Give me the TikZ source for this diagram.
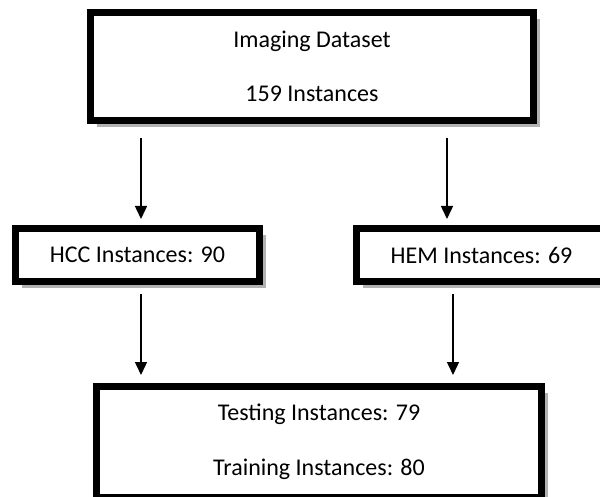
\documentclass[tikz,border=0pt]{standalone}
\usepackage{fontspec}
\setmainfont{Carlito}
\usetikzlibrary{arrows.meta,shadows}
\tikzset{
  box/.style={draw=black, line width=7pt, fill=white, rectangle, inner sep=0pt,
    align=center, font=\fontsize{24}{28}\selectfont,
    drop shadow={shadow xshift=6.5pt, shadow yshift=-6.5pt, fill=black!30, opacity=1}},
  arr/.style={line width=1.5pt, -{Triangle[width=12pt,length=13pt]}}
}
\begin{document}
\begin{tikzpicture}[x=1pt,y=-1pt]
\useasboundingbox (0,0) rectangle (600,497);
\node[box, minimum width=443pt, minimum height=108pt] (top) at (312,66.5)
  {Imaging Dataset\\[26pt]159 Instances};
\node[box, minimum width=244pt, minimum height=53pt] (hcc) at (137.5,255)
  {HCC Instances: 90};
\node[box, minimum width=250pt, minimum height=53pt] (hem) at (481.5,255)
  {HEM Instances: 69};
\node[box, minimum width=445pt, minimum height=111pt] (res) at (319,442)
  {Testing Instances: 79\\[27pt]Training Instances: 80};
\draw[arr, shorten <=14pt, shorten >=6pt] (top.south -| 141,0) -- (hcc.north -| 141,0);
\draw[arr, shorten <=14pt, shorten >=6pt] (top.south -| 447,0) -- (hem.north -| 447,0);
\draw[arr, shorten <=9pt, shorten >=8pt] (hcc.south -| 141,0) -- (res.north -| 141,0);
\draw[arr, shorten <=9pt, shorten >=8pt] (hem.south -| 453,0) -- (res.north -| 453,0);
\end{tikzpicture}
\end{document}
